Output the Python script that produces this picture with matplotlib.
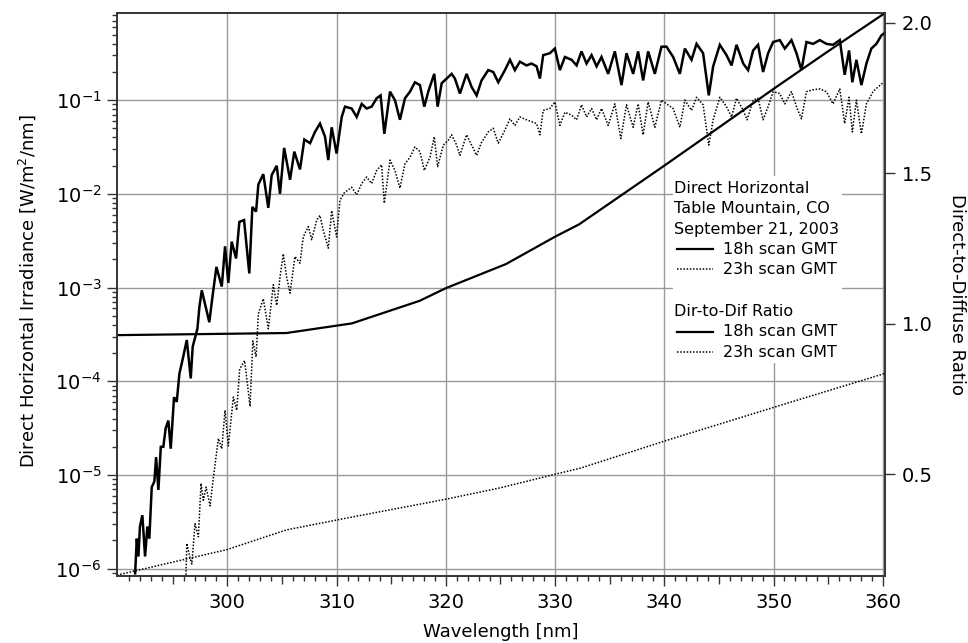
import matplotlib.pyplot as plt
import numpy as np
from matplotlib.ticker import FixedLocator, LogLocator, NullFormatter

# Direct horizontal irradiance, 18h scan (wavelength nm, log10 W/m2/nm)
wl_18h = [291.56, 291.71, 291.86, 292.00, 292.22, 292.47, 292.68, 292.86, 293.08, 293.32,
          293.48, 293.69, 293.91, 294.14, 294.36, 294.60, 294.82, 295.12, 295.37, 295.61,
          295.92, 296.29, 296.65, 296.83, 297.26, 297.44, 297.66, 298.35, 298.66, 299.00,
          299.49, 299.79, 300.09, 300.40, 300.80, 301.10, 301.53, 302.01, 302.29, 302.63,
          302.84, 303.29, 303.75, 304.06, 304.52, 304.82, 305.20, 305.74, 306.13, 306.65,
          307.05, 307.57, 308.02, 308.48, 308.94, 309.24, 309.55, 310.00, 310.47, 310.77,
          311.38, 311.84, 312.30, 312.75, 313.21, 313.67, 314.03, 314.37, 314.89, 315.34,
          315.80, 316.26, 316.72, 317.17, 317.63, 318.03, 318.39, 318.94, 319.25, 319.62,
          320.07, 320.53, 320.83, 321.29, 321.90, 322.36, 322.82, 323.27, 323.88, 324.34,
          324.80, 325.41, 325.87, 326.32, 326.78, 327.39, 327.85, 328.31, 328.61, 328.91,
          329.52, 329.98, 330.44, 330.90, 331.51, 331.97, 332.42, 332.88, 333.34, 333.80,
          334.25, 334.86, 335.47, 336.08, 336.54, 337.15, 337.60, 338.06, 338.52, 339.13,
          339.74, 340.20, 340.81, 341.42, 341.88, 342.49, 342.95, 343.55, 344.07, 344.47,
          345.08, 345.69, 346.15, 346.61, 347.22, 347.67, 348.13, 348.58, 349.04, 349.50,
          349.96, 350.57, 351.03, 351.64, 352.10, 352.55, 353.01, 353.62, 354.23, 354.84,
          355.44, 356.06, 356.51, 356.91, 357.21, 357.58, 358.04, 358.50, 358.95, 359.41,
          359.87, 360.10]
log_irr_18h = [-6.05, -5.68, -5.87, -5.55, -5.43, -5.87, -5.55, -5.68, -5.13, -5.07,
               -4.81, -5.16, -4.70, -4.70, -4.50, -4.42, -4.72, -4.17, -4.22, -3.92,
               -3.76, -3.56, -3.97, -3.63, -3.44, -3.21, -3.03, -3.37, -3.08, -2.78,
               -2.99, -2.56, -2.95, -2.51, -2.69, -2.30, -2.28, -2.85, -2.14, -2.19,
               -1.90, -1.79, -2.15, -1.80, -1.70, -2.00, -1.51, -1.85, -1.55, -1.74,
               -1.42, -1.46, -1.34, -1.25, -1.39, -1.64, -1.29, -1.57, -1.18, -1.07,
               -1.09, -1.18, -1.04, -1.09, -1.07, -0.98, -0.95, -1.36, -0.91, -1.00,
               -1.21, -0.98, -0.91, -0.81, -0.84, -1.07, -0.91, -0.72, -1.07, -0.82,
               -0.77, -0.72, -0.77, -0.93, -0.72, -0.86, -0.95, -0.79, -0.68, -0.70,
               -0.81, -0.68, -0.57, -0.68, -0.59, -0.63, -0.61, -0.64, -0.77, -0.52,
               -0.50, -0.45, -0.68, -0.54, -0.57, -0.63, -0.48, -0.61, -0.52, -0.64,
               -0.54, -0.72, -0.48, -0.84, -0.50, -0.72, -0.48, -0.79, -0.48, -0.72,
               -0.43, -0.43, -0.54, -0.72, -0.45, -0.57, -0.40, -0.50, -0.95, -0.64,
               -0.41, -0.52, -0.63, -0.41, -0.61, -0.68, -0.47, -0.41, -0.70, -0.50,
               -0.38, -0.36, -0.45, -0.36, -0.50, -0.68, -0.38, -0.40, -0.36, -0.40,
               -0.41, -0.36, -0.73, -0.47, -0.81, -0.57, -0.84, -0.61, -0.45, -0.40,
               -0.31, -0.29]

# Direct horizontal irradiance, 23h scan
wl_23h = [296.20, 296.29, 296.59, 296.75, 297.04, 297.35, 297.59, 297.80, 298.05, 298.42,
          298.72, 299.18, 299.49, 299.79, 300.09, 300.55, 300.86, 301.13, 301.58, 302.08,
          302.33, 302.63, 302.84, 303.29, 303.75, 304.21, 304.52, 304.82, 305.12, 305.43,
          305.74, 306.19, 306.65, 306.95, 307.41, 307.72, 308.18, 308.48, 308.78, 309.24,
          309.55, 310.00, 310.31, 310.70, 311.38, 311.84, 312.30, 312.75, 313.21, 313.67,
          314.12, 314.37, 314.89, 315.34, 315.80, 316.26, 316.72, 317.17, 317.63, 318.03,
          318.55, 318.94, 319.25, 319.77, 320.22, 320.53, 320.99, 321.29, 321.90, 322.36,
          322.82, 323.27, 323.88, 324.34, 324.80, 325.41, 325.87, 326.32, 326.78, 327.39,
          327.85, 328.31, 328.61, 328.91, 329.52, 329.98, 330.44, 330.90, 331.51, 331.97,
          332.42, 332.88, 333.34, 333.80, 334.25, 334.86, 335.47, 336.02, 336.54, 337.15,
          337.60, 338.06, 338.52, 339.13, 339.74, 340.20, 340.81, 341.42, 341.88, 342.49,
          342.95, 343.55, 344.07, 344.47, 345.08, 345.69, 346.15, 346.61, 347.22, 347.58,
          348.13, 348.58, 349.04, 349.50, 349.96, 350.57, 351.03, 351.64, 352.10, 352.55,
          353.01, 353.62, 354.23, 354.84, 355.44, 356.06, 356.51, 356.91, 357.21, 357.58,
          358.04, 358.50, 359.10, 359.56, 359.96]
log_irr_23h = [-6.10, -5.73, -5.89, -5.95, -5.52, -5.66, -5.09, -5.27, -5.13, -5.33,
               -5.03, -4.61, -4.72, -4.31, -4.69, -4.17, -4.31, -3.87, -3.78, -4.27,
               -3.57, -3.74, -3.28, -3.12, -3.44, -2.97, -3.19, -2.89, -2.64, -2.89,
               -3.06, -2.67, -2.74, -2.46, -2.35, -2.49, -2.28, -2.23, -2.39, -2.58,
               -2.18, -2.46, -2.07, -1.99, -1.93, -2.01, -1.89, -1.82, -1.89, -1.75,
               -1.69, -2.10, -1.64, -1.75, -1.94, -1.68, -1.61, -1.50, -1.55, -1.75,
               -1.61, -1.39, -1.71, -1.48, -1.43, -1.37, -1.48, -1.59, -1.37, -1.48,
               -1.59, -1.45, -1.34, -1.30, -1.46, -1.32, -1.20, -1.27, -1.18, -1.21,
               -1.23, -1.25, -1.37, -1.11, -1.09, -1.02, -1.27, -1.13, -1.16, -1.21,
               -1.05, -1.18, -1.09, -1.21, -1.09, -1.27, -1.04, -1.41, -1.05, -1.29,
               -1.04, -1.37, -1.02, -1.29, -1.00, -1.04, -1.09, -1.29, -1.00, -1.11,
               -0.97, -1.05, -1.48, -1.21, -0.97, -1.07, -1.18, -0.98, -1.11, -1.21,
               -1.00, -0.98, -1.21, -1.07, -0.91, -0.93, -1.04, -0.91, -1.07, -1.20,
               -0.91, -0.89, -0.88, -0.91, -1.04, -0.88, -1.25, -0.97, -1.34, -1.00,
               -1.36, -1.04, -0.91, -0.86, -0.82]

# Direct-to-diffuse ratio
wl_ratio_18h = [289.9, 305.4, 311.4, 317.6, 320.0, 325.5, 330.0, 332.2, 336.0, 340.0,
                345.0, 350.0, 355.0, 360.2]
ratio_18h = [0.962, 0.969, 1.001, 1.076, 1.118, 1.198, 1.289, 1.330, 1.425, 1.525,
             1.652, 1.780, 1.905, 2.032]
wl_ratio_23h = [289.9, 300.0, 305.4, 311.0, 320.0, 325.0, 330.0, 332.3, 340.0, 350.0, 360.2]
ratio_23h = [0.165, 0.250, 0.315, 0.355, 0.417, 0.455, 0.500, 0.520, 0.610, 0.722, 0.835]

x_ticks = [300, 310, 320, 330, 340, 350, 360]
ratio_ticks = [0.5, 1.0, 1.5, 2.0]

plt.rcParams['font.family'] = 'DejaVu Sans'

fig = plt.figure(figsize=(9.68, 6.43), dpi=100)
ax = fig.add_axes([117 / 968, 67 / 643, 768 / 968, 563 / 643])
ax2 = ax.twinx()

solid = dict(color='black', lw=1.8, solid_joinstyle='miter')
dotted = dict(color='black', lw=1.1, linestyle=(0, (1, 1.1)))

ax.plot(wl_18h, 10 ** np.array(log_irr_18h), **solid)
ax.plot(wl_23h, 10 ** np.array(log_irr_23h), **dotted)
ax2.plot(wl_ratio_18h, ratio_18h, color='black', lw=1.6)
ax2.plot(wl_ratio_23h, ratio_23h, **dotted)

ax.set_yscale('log')
ax.set_xlim(289.9, 360.2)
ax.set_ylim(8.35e-7, 0.85)
ax2.set_ylim(0.162, 2.032)

ax.xaxis.set_major_locator(FixedLocator(x_ticks))
ax.xaxis.set_minor_locator(FixedLocator([v for v in range(291, 361) if v % 5 != 0]))
ax.yaxis.set_major_locator(LogLocator(base=10, numticks=10))
ax.yaxis.set_minor_locator(LogLocator(base=10, subs=np.arange(2, 10), numticks=20))
ax.yaxis.set_minor_formatter(NullFormatter())
ax2.set_yticks(ratio_ticks)
ax2.set_yticklabels(['%.1f' % v for v in ratio_ticks])

# medium ticks every 5 nm
sec = ax.secondary_xaxis('bottom')
sec.set_xticks([295, 305, 315, 325, 335, 345, 355])
sec.set_xticklabels([])
sec.tick_params(direction='out', length=5.5, width=1, color='#333333')
sec.spines['bottom'].set_visible(False)

ax.grid(True, which='major', color='#9a9a9a', lw=1.0)
ax.set_axisbelow(True)

ax.tick_params(axis='both', which='major', direction='out', length=7, width=1, labelsize=14, color='#333333')
ax.tick_params(axis='x', which='major', pad=5)
ax.tick_params(axis='y', which='major', pad=4)
ax.tick_params(axis='both', which='minor', direction='out', length=3.5, width=1, color='#333333')
ax2.tick_params(axis='y', which='major', direction='out', length=7, width=1, labelsize=14, pad=5, color='#333333')
for a in (ax, ax2):
    for s in a.spines.values():
        s.set_linewidth(1.2)
        s.set_color('#333333')

ax.set_xlabel('Wavelength [nm]', fontsize=13, va='center')
ax.xaxis.set_label_coords(0.5, -0.0995)
ax.set_ylabel('Direct Horizontal Irradiance [W/m$^2$/nm]', fontsize=13, va='center')
ax.yaxis.set_label_coords(-0.117, 0.506)
ax2.set_ylabel('Direct-to-Diffuse Ratio', fontsize=13, rotation=270, va='center')
ax2.yaxis.set_label_coords(1.094, 0.5)

# legend block
ax2.add_patch(plt.Rectangle((0.724, 0.378), 0.22, 0.3325, transform=ax2.transAxes,
                            facecolor='white', edgecolor='none', zorder=3))
fs = 11.5
title_lines = [('Direct Horizontal', 0.6886), ('Table Mountain, CO', 0.6531),
               ('September 21, 2003', 0.6163), ('Dir-to-Dif Ratio', 0.4694)]
for txt, yy in title_lines:
    ax2.text(0.7253, yy, txt, transform=ax2.transAxes, fontsize=fs, va='center', zorder=4)
entries = [('18h scan GMT', 0.5803, 'solid'), ('23h scan GMT', 0.5448, 'dotted'),
           ('18h scan GMT', 0.4339, 'solid'), ('23h scan GMT', 0.3973, 'dotted')]
for txt, yy, st in entries:
    if st == 'solid':
        ax2.plot([0.7292, 0.776], [yy, yy], transform=ax2.transAxes, color='black', lw=1.6, zorder=4)
    else:
        ax2.plot([0.7292, 0.776], [yy, yy], transform=ax2.transAxes, zorder=4, **dotted)
    ax2.text(0.789, yy, txt, transform=ax2.transAxes, fontsize=fs, va='center', zorder=4)

fig.savefig('out.png', dpi=100)
